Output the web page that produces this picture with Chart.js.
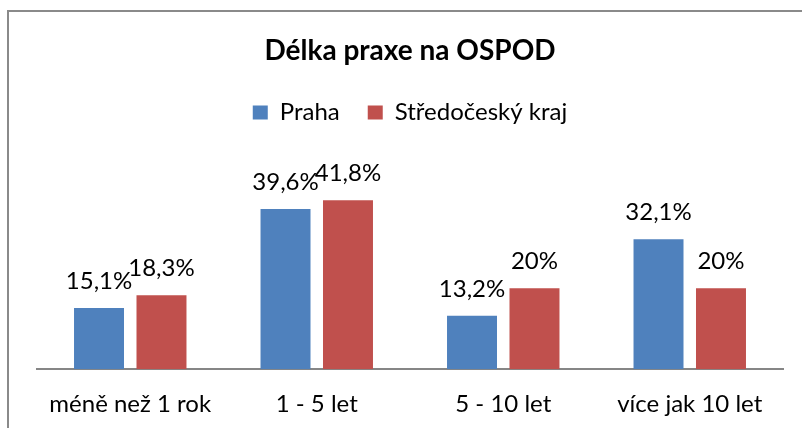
<!DOCTYPE html>
<html>
<head>
<meta charset="utf-8">
<script src="https://cdn.jsdelivr.net/npm/chart.js@4"></script>
<style>
  html, body { margin: 0; padding: 0; background: #fff; }
  #wrap { position: relative; width: 802px; height: 428px; overflow: hidden; }
  #frame { position: absolute; left: 7px; top: 10px; width: 900px; height: 500px; border-left: 2px solid #8a8a8a; border-top: 2px solid #8a8a8a; }
  canvas { position: absolute; left: 0; top: 0; }
</style>
</head>
<body>
<div id="wrap">
  <div id="frame"></div>
  <canvas id="c" width="802" height="428"></canvas>
</div>
<script>
const categories = ["méně než 1 rok", "1 - 5 let", "5 - 10 let", "více jak 10 let"];
const seriesNames = ["Praha", "Středočeský kraj"];
const praha = [15.1, 39.6, 13.2, 32.1];
const stredocesky = [18.3, 41.8, 20, 20];
const chartTitle = "Délka praxe na OSPOD";

const FONT = "Lato, 'Liberation Sans', sans-serif";

const fmt = v => String(v).replace('.', ',') + '%';

const valueLabels = {
  id: 'valueLabels',
  afterDatasetsDraw(chart) {
    const ctx = chart.ctx;
    ctx.save();
    ctx.font = '24px ' + FONT;
    ctx.fillStyle = '#000';
    ctx.textAlign = 'center';
    ctx.textBaseline = 'middle';
    chart.data.datasets.forEach((ds, i) => {
      const meta = chart.getDatasetMeta(i);
      meta.data.forEach((el, j) => {
        ctx.fillText(fmt(ds.data[j]), el.x, el.y - 27);
      });
    });
    ctx.restore();
  }
};

new Chart(document.getElementById('c'), {
  type: 'bar',
  data: {
    labels: categories,
    datasets: [
      { label: seriesNames[0], data: praha, backgroundColor: '#4F81BD', categoryPercentage: 0.67, barPercentage: 0.8 },
      { label: seriesNames[1], data: stredocesky, backgroundColor: '#C0504D', categoryPercentage: 0.67, barPercentage: 0.8 }
    ]
  },
  options: {
    responsive: false,
    animation: false,
    layout: { padding: { left: 37, right: 19, top: 0, bottom: -12 } },
    plugins: {
      title: {
        display: true,
        text: chartTitle,
        color: '#000',
        font: { family: FONT, size: 28, weight: 'bold' },
        padding: { top: 34, bottom: 5 }
      },
      legend: {
        display: true,
        labels: {
          color: '#000',
          font: { family: FONT, size: 24 },
          boxWidth: 15,
          boxHeight: 14,
          padding: 28
        }
      },
      tooltip: { enabled: false }
    },
    scales: {
      x: {
        grid: { display: false, drawTicks: false },
        border: { display: true, color: '#868686', width: 2 },
        ticks: { color: '#000', font: { family: FONT, size: 24 }, padding: 21, maxRotation: 0 }
      },
      y: {
        display: false,
        min: 0,
        max: 58
      }
    }
  },
  plugins: [valueLabels]
});
</script>
</body>
</html>
